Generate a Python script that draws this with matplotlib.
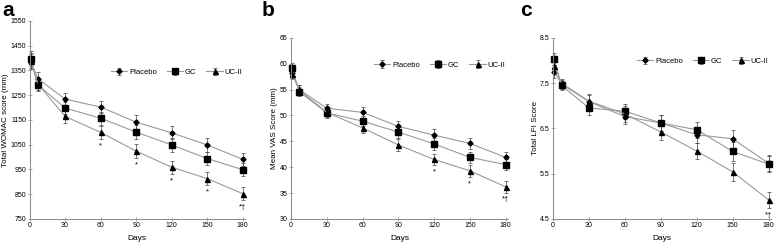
import matplotlib

matplotlib.use("Agg")
import matplotlib.pyplot as plt

plt.rcParams["font.family"] = ["Liberation Sans", "DejaVu Sans"]

days = [1, 7, 30, 60, 90, 120, 150, 180]
series_names = ["Placebo", "GC", "UC-II"]

womac_placebo = [1386, 1317, 1234, 1202, 1141, 1098, 1049, 991]
womac_gc = [1398, 1292, 1198, 1157, 1101, 1049, 994, 949]
womac_uc = [1390, 1295, 1164, 1100, 1024, 959, 913, 852]
womac_err = [30, 26, 26, 26, 27, 27, 27, 27]

vas_placebo = [58.3, 55.0, 51.4, 50.6, 47.9, 46.2, 44.6, 41.9]
vas_gc = [59.1, 54.6, 50.5, 48.9, 46.8, 44.5, 41.9, 40.5]
vas_uc = [58.0, 54.9, 50.6, 47.6, 44.3, 41.5, 39.3, 36.2]
vas_err = [1.0, 0.9, 0.9, 1.0, 1.1, 1.1, 1.1, 1.1]

lfi_placebo = [7.75, 7.48, 7.09, 6.76, 6.62, 6.36, 6.27, 5.73]
lfi_gc = [8.03, 7.45, 6.95, 6.88, 6.62, 6.47, 5.99, 5.71]
lfi_uc = [7.88, 7.50, 7.10, 6.82, 6.42, 6.00, 5.54, 4.92]
lfi_err = [0.14, 0.1, 0.15, 0.17, 0.18, 0.18, 0.2, 0.18]

womac_marks = {60: "*", 90: "*", 120: "*", 150: "*", 180: "*\u2020"}
vas_marks = {120: "*", 150: "*", 180: "*\u2020"}
lfi_marks = {180: "*\u2020"}

markers = ["D", "s", "^"]
msizes = [2.6, 4.2, 3.6]

panels = [
    ("a", [0.038, 0.11, 0.277, 0.805], (womac_placebo, womac_gc, womac_uc), womac_err,
     (750, 1550), [750, 850, 950, 1050, 1150, 1250, 1350, 1450, 1550], "Total WOMAC score (mm)",
     womac_marks, 0.74),
    ("b", [0.374, 0.11, 0.279, 0.736], (vas_placebo, vas_gc, vas_uc), vas_err,
     (30, 65), [30, 35, 40, 45, 50, 55, 60, 65], "Mean VAS Score (mm)", vas_marks, 0.85),
    ("c", [0.711, 0.11, 0.280, 0.736], (lfi_placebo, lfi_gc, lfi_uc), lfi_err,
     (4.5, 8.5), [4.5, 5.5, 6.5, 7.5, 8.5], "Total LFI Score", lfi_marks, 0.87),
]

fig = plt.figure(figsize=(7.78, 2.46), dpi=100)

for letter, rect, data, err, ylim, yticks, ylabel, marks, leg_y in panels:
    ax = fig.add_axes(rect)
    for i, vals in enumerate(data):
        ax.errorbar(days, vals, yerr=err, color="#9a9a9a", linewidth=0.8,
                    ecolor="#444444", elinewidth=0.5, capsize=1.3, capthick=0.5,
                    marker=markers[i], markersize=msizes[i], markerfacecolor="black",
                    markeredgecolor="black", label=series_names[i], clip_on=False)
    uc = data[2]
    for d, txt in marks.items():
        idx = days.index(d)
        ax.annotate(txt, (d, uc[idx] - err[idx]), xytext=(0, -2.5), textcoords="offset points",
                    ha="center", va="top", fontsize=5.5)
    ax.set_xlim(0, 182)
    ax.set_ylim(*ylim)
    ax.set_xticks([0, 30, 60, 90, 120, 150, 180])
    ax.set_yticks(yticks)
    if letter == "c":
        ax.set_yticklabels([f"{t:.1f}" for t in yticks])
    ax.tick_params(labelsize=5, length=2.5, width=0.5, color="#888888", direction="inout", pad=1.2)
    for s in ["top", "right"]:
        ax.spines[s].set_visible(False)
    for s in ["left", "bottom"]:
        ax.spines[s].set_color("#888888")
        ax.spines[s].set_linewidth(0.7)
    ax.set_xlabel("Days", fontsize=6, labelpad=4)
    ax.set_ylabel(ylabel, fontsize=5.8, labelpad=1)
    ax.legend(loc="center right", bbox_to_anchor=(1.02, leg_y), ncol=3, frameon=False,
              fontsize=5.5, handlelength=2.2, handletextpad=0.2, columnspacing=1.3)

fig.text(0.003, 0.995, "a", fontsize=15, fontweight="bold", va="top")
fig.text(0.336, 0.995, "b", fontsize=15, fontweight="bold", va="top")
fig.text(0.668, 0.995, "c", fontsize=15, fontweight="bold", va="top")

fig.savefig("out.png", dpi=100)
